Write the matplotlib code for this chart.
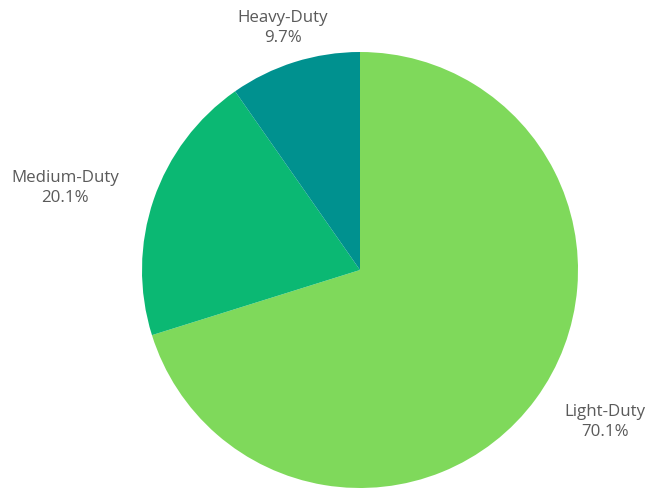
import numpy as np
import matplotlib.pyplot as plt

plt.rcParams['font.family'] = ['Open Sans', 'DejaVu Sans']

labels = ['Light-Duty', 'Medium-Duty', 'Heavy-Duty']
shares = [70.1, 20.1, 9.7]
colors = ['#7fd95b', '#0bb873', '#00918f']

fig = plt.figure(figsize=(6.47, 4.88), dpi=100)
r_px = 218
cx, cy = 360, 270
ax = fig.add_axes([(cx - r_px) / 647, (488 - cy - r_px) / 488, 2 * r_px / 647, 2 * r_px / 488])
ax.pie(shares, colors=colors, startangle=90, counterclock=False, radius=1,
       wedgeprops=dict(linewidth=0))
ax.set_xlim(-1, 1)
ax.set_ylim(-1, 1)
ax.set_aspect('equal')
ax.axis('off')

# label positions in data units (radius = 1)
label_pos = [(1.124, -0.697), (-1.353, 0.376), (-0.353, 1.11)]
for lab, val, (x, y) in zip(labels, shares, label_pos):
    ax.text(x, y, f'{lab}\n{val}%', ha='center', va='center', fontsize=12.2,
            color='#5a5a5a', linespacing=1.4, clip_on=False)

fig.savefig('out.png', dpi=100)
